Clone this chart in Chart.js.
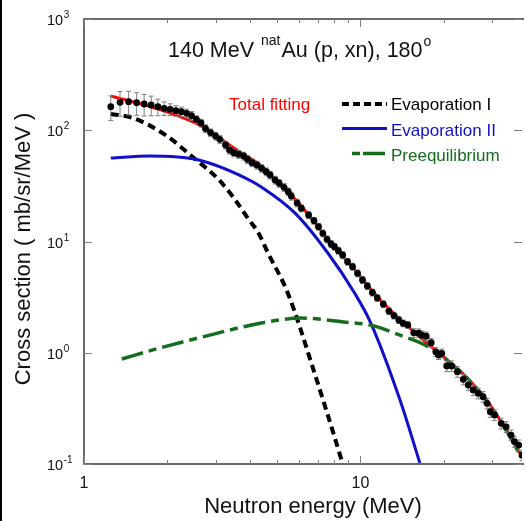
<!DOCTYPE html>
<html>
<head>
<meta charset="utf-8">
<script src="https://cdn.jsdelivr.net/npm/chart.js@4.4.0/dist/chart.umd.min.js"></script>
<style>
  html, body { margin: 0; padding: 0; background: #fff; }
  #wrap { width: 526px; height: 521px; position: relative; }
</style>
</head>
<body>
<div id="wrap"><canvas id="chart" width="526" height="521"></canvas></div>
<script>
// Measured spectrum (neutron energy in MeV, cross section in mb/sr/MeV)
const dataE = [1.25, 1.35, 1.45, 1.55, 1.65, 1.75, 1.85, 1.95, 2.05, 2.15, 2.25, 2.35, 2.45, 2.55, 2.65,
  2.75, 2.87, 2.99, 3.10, 3.25, 3.36, 3.48, 3.62, 3.78, 3.90, 4.05, 4.22, 4.39, 4.56, 4.71, 4.91, 5.08, 5.29, 5.48, 5.62, 5.90,
  6.11, 6.49, 6.79, 7.05, 7.31, 7.57, 7.83, 8.05, 8.32, 8.62, 8.98, 9.36, 9.76, 10.17, 10.59, 11.04, 11.50, 12.09, 12.67, 13.21,
  13.76, 14.26, 14.83, 15.58, 16.23, 16.68, 17.29, 18.02, 18.73, 19.15, 19.68, 20.51, 21.37, 22.40, 23.53, 24.53, 25.56, 26.64,
  27.76, 28.69, 29.48, 30.55, 32.28, 33.64, 35.06, 36.03, 37.37, 38.40];
const dataY = [162.8, 178.3, 180.6, 176.9, 172.2, 168.7, 162.8, 157.5, 154.3, 149.9, 146.8, 142.0, 135.1, 124.9, 116.2,
  103.7, 95.1, 88.8, 82.9, 73.7, 66.4, 62.8, 60.8, 58.7, 54.8, 51.1, 48.7, 45.5, 42.4, 39.6, 35.7, 33.4, 30.7, 28.0, 25.6, 22.2,
  19.9, 17.3, 15.4, 13.6, 11.85, 10.47, 9.50, 8.98, 8.27, 7.56, 6.58, 5.94, 5.18, 4.51, 3.98, 3.48, 3.11, 2.74, 2.37, 2.16,
  1.97, 1.84, 1.78, 1.51, 1.50, 1.44, 1.41, 1.23, 1.02, 0.955, 0.989, 0.760, 0.760, 0.676, 0.577, 0.513, 0.463, 0.432,
  0.403, 0.351, 0.295, 0.276, 0.232, 0.216, 0.182, 0.159, 0.148, 0.120];
// relative uncertainty of each point, in percent
const errPct = [25, 25, 24, 23, 22, 20, 17, 14, 12, 11, 10, 9, 9, 8, 8,
  8, 8, 8, 8, 8, 8, 8, 8, 8, 8, 8, 8, 8, 8, 8, 8, 8, 8, 8, 8, 8,
  7, 7, 7, 7, 7, 7, 7, 7, 7, 7, 7, 7, 7, 7, 7, 7, 7, 7, 7, 7,
  7, 7, 7, 9, 9, 9, 9, 9, 9, 9, 9, 11, 11, 11, 11, 11, 11, 11,
  11, 11, 11, 11, 11, 11, 11, 11, 11, 11];

// Fitted components
const totalE = [1.25, 1.57, 2.06, 2.68, 3.29, 3.71, 4.33, 5.04, 5.71, 6.10, 7.62, 9.52, 10.6, 12.1, 13.6, 17.4, 20.5, 24.2, 28.5, 33.6, 35.6, 38.4];
const totalY = [203, 175, 142, 108, 76.3, 62.4, 48.7, 34, 25, 21, 10.4, 5.6, 4.05, 2.8, 2.1, 1.22, 0.87, 0.60, 0.38, 0.205, 0.164, 0.115];
const evapIE = [1.25, 1.50, 1.98, 2.46, 3.07, 3.53, 3.94, 4.27, 4.64, 5.47, 6.79, 8.48, 8.62];
const evapIY = [140, 129, 90, 58, 36, 23.5, 15.8, 12.0, 7.8, 3.4, 0.68, 0.115, 0.10];
const evapIIE = [1.25, 1.72, 2.60, 3.84, 4.38, 5.80, 7.62, 9.52, 10.9, 13.9, 16.4];
const evapIIY = [56.3, 58.7, 54.0, 37.2, 30.9, 18.0, 7.88, 3.44, 1.85, 0.376, 0.102];
const preE = [1.37, 1.87, 2.60, 4.38, 6.10, 8.69, 10.9, 13.9, 17.4, 20.5, 24.2, 28.5, 33.6, 38.1];
const preY = [0.879, 1.10, 1.36, 1.85, 2.05, 1.89, 1.77, 1.44, 1.15, 0.86, 0.60, 0.376, 0.202, 0.116];

// Axis ticks
const xMinorTicks = [2, 3, 4, 5, 6, 7, 8, 9, 20, 30];
const xLabelTicks = [1, 10];
const yExponents = [-1, 0, 1, 2, 3];

const FONT = "'Liberation Sans', Arial, Helvetica, sans-serif";
const RED = "#ff0000";
const BLUE = "#1010c8";
const GREEN = "#146e1e";

function toPoints(xs, ys) {
  return xs.map((x, i) => ({ x: x, y: ys[i] }));
}

// draw one run of text, returns the x where the next run starts
function drawRun(ctx, text, x, y, size) {
  ctx.font = size + "px " + FONT;
  ctx.fillText(text, x, y);
  return x + ctx.measureText(text).width;
}

const decorPlugin = {
  id: "decor",
  beforeDatasetDraw(chart, args) {
    if (chart.data.datasets[args.index].label !== "Data") return;
    const ctx = chart.ctx;
    const xs = chart.scales.x;
    const ys = chart.scales.y;
    const area = chart.chartArea;
    ctx.save();
    ctx.beginPath();
    ctx.rect(area.left, area.top, area.right - area.left, area.bottom - area.top);
    ctx.clip();
    ctx.strokeStyle = "#7e7e7e";
    ctx.lineWidth = 1;
    dataE.forEach((e, i) => {
      const px = xs.getPixelForValue(e);
      const hi = ys.getPixelForValue(dataY[i] * (1 + errPct[i] / 100));
      const lo = ys.getPixelForValue(dataY[i] * (1 - errPct[i] / 100));
      ctx.beginPath();
      ctx.moveTo(px, hi);
      ctx.lineTo(px, lo);
      ctx.moveTo(px - 2.5, hi);
      ctx.lineTo(px + 2.5, hi);
      ctx.moveTo(px - 2.5, lo);
      ctx.lineTo(px + 2.5, lo);
      ctx.stroke();
    });
    ctx.restore();
  },
  afterDraw(chart) {
    const ctx = chart.ctx;
    const xs = chart.scales.x;
    const ys = chart.scales.y;
    const a = chart.chartArea;
    ctx.save();

    // left edge rule of the figure
    ctx.fillStyle = "#000";
    ctx.fillRect(0, 0, 2, chart.height);

    // frame
    ctx.strokeStyle = "#3a3a3a";
    ctx.lineWidth = 1.5;
    ctx.beginPath();
    ctx.moveTo(a.right + 2, a.top);
    ctx.lineTo(a.left, a.top);
    ctx.lineTo(a.left, a.bottom);
    ctx.lineTo(a.right + 2, a.bottom);
    ctx.stroke();

    // inward ticks
    ctx.strokeStyle = "#808080";
    ctx.lineWidth = 1;
    ctx.beginPath();
    xMinorTicks.forEach((v) => {
      const px = Math.round(xs.getPixelForValue(v)) + 0.5;
      ctx.moveTo(px, a.bottom); ctx.lineTo(px, a.bottom - 4);
      ctx.moveTo(px, a.top); ctx.lineTo(px, a.top + 4);
    });
    xLabelTicks.forEach((v) => {
      const px = Math.round(xs.getPixelForValue(v)) + 0.5;
      ctx.moveTo(px, a.bottom); ctx.lineTo(px, a.bottom - 8);
      ctx.moveTo(px, a.top); ctx.lineTo(px, a.top + 8);
    });
    yExponents.forEach((p) => {
      const py = Math.round(ys.getPixelForValue(Math.pow(10, p))) + 0.5;
      ctx.moveTo(a.left, py); ctx.lineTo(a.left + 8, py);
      ctx.moveTo(a.right, py); ctx.lineTo(a.right - 8, py);
    });
    ctx.stroke();

    // tick labels
    ctx.fillStyle = "#111";
    ctx.textBaseline = "alphabetic";
    ctx.textAlign = "center";
    ctx.font = "16px " + FONT;
    xLabelTicks.forEach((v) => {
      ctx.fillText(String(v), xs.getPixelForValue(v), a.bottom + 24);
    });
    ctx.textAlign = "left";
    yExponents.forEach((p) => {
      const py = ys.getPixelForValue(Math.pow(10, p));
      const end = drawRun(ctx, "10", 47, py + 6, 14.5);
      drawRun(ctx, p < 0 ? "-" + Math.abs(p) : String(p), end + 0.5, py - 1, 10);
    });

    // axis titles
    ctx.font = "22px " + FONT;
    ctx.textAlign = "center";
    ctx.fillText("Neutron energy (MeV)", 313, 513);
    ctx.save();
    ctx.translate(24, 249);
    ctx.rotate(-Math.PI / 2);
    ctx.textBaseline = "middle";
    ctx.fillText("Cross section ( mb/sr/MeV )", 0, 0);
    ctx.restore();

    // plot caption with superscripts
    ctx.textAlign = "left";
    ctx.fillStyle = "#111";
    let cx = drawRun(ctx, "140 MeV ", 168, 57, 21.5);
    cx = drawRun(ctx, "nat", cx + 1, 45, 14);
    cx = drawRun(ctx, "Au (p, xn), 180", cx + 1, 57, 21.5);
    drawRun(ctx, "o", cx + 1, 46, 14);

    // legend
    ctx.font = "17px " + FONT;
    ctx.fillStyle = RED;
    ctx.fillText("Total fitting", 229, 110);

    const sx0 = 342, sx1 = 387, tx = 391;
    ctx.lineCap = "butt";
    ctx.lineWidth = 4;
    ctx.strokeStyle = "#000";
    ctx.setLineDash([7, 4]);
    ctx.beginPath(); ctx.moveTo(sx0, 104); ctx.lineTo(sx1, 104); ctx.stroke();
    ctx.fillStyle = "#000";
    ctx.fillText("Evaporation I", tx, 110);

    ctx.strokeStyle = BLUE;
    ctx.lineWidth = 3;
    ctx.setLineDash([]);
    ctx.beginPath(); ctx.moveTo(sx0, 128.5); ctx.lineTo(sx1, 128.5); ctx.stroke();
    ctx.fillStyle = BLUE;
    ctx.fillText("Evaporation II", tx, 136);

    ctx.strokeStyle = GREEN;
    ctx.lineWidth = 3.5;
    ctx.setLineDash([8, 3, 22, 6]);
    ctx.beginPath(); ctx.moveTo(352, 153.5); ctx.lineTo(sx1, 153.5); ctx.stroke();
    ctx.setLineDash([]);
    ctx.fillStyle = GREEN;
    ctx.fillText("Preequilibrium", tx, 161);

    ctx.restore();
  },
};

const ctx = document.getElementById("chart").getContext("2d");

new Chart(ctx, {
  type: "scatter",
  data: {
    datasets: [
      {
        label: "Data",
        data: toPoints(dataE, dataY),
        showLine: false,
        pointRadius: 3.4,
        pointBackgroundColor: "#000",
        pointBorderWidth: 0,
        order: 0,
      },
      {
        label: "Preequilibrium",
        data: toPoints(preE, preY),
        showLine: true,
        borderColor: GREEN,
        borderWidth: 3.5,
        borderDash: [22, 6, 8, 6],
        pointRadius: 0,
        cubicInterpolationMode: "monotone",
        order: 1,
      },
      {
        label: "Evaporation II",
        data: toPoints(evapIIE, evapIIY),
        showLine: true,
        borderColor: BLUE,
        borderWidth: 3,
        pointRadius: 0,
        cubicInterpolationMode: "monotone",
        order: 2,
      },
      {
        label: "Evaporation I",
        data: toPoints(evapIE, evapIY),
        showLine: true,
        borderColor: "#000",
        borderWidth: 4,
        borderDash: [8, 5],
        pointRadius: 0,
        cubicInterpolationMode: "monotone",
        order: 3,
      },
      {
        label: "Total fitting",
        data: toPoints(totalE, totalY),
        showLine: true,
        borderColor: RED,
        borderWidth: 3,
        pointRadius: 0,
        cubicInterpolationMode: "monotone",
        order: 4,
      },
    ],
  },
  options: {
    responsive: false,
    animation: false,
    devicePixelRatio: 1,
    layout: { padding: { top: 19, right: 0, left: 0, bottom: 0 } },
    plugins: {
      legend: { display: false },
      tooltip: { enabled: false },
    },
    scales: {
      x: {
        type: "logarithmic",
        min: 1,
        max: 38.39,
        grid: { display: false, drawTicks: false },
        border: { display: false },
        ticks: { display: false },
        afterFit: (scale) => { scale.height = 57; },
      },
      y: {
        type: "logarithmic",
        min: 0.1,
        max: 1000,
        grid: { display: false, drawTicks: false },
        border: { display: false },
        ticks: { display: false },
        afterFit: (scale) => { scale.width = 84; },
      },
    },
  },
  plugins: [decorPlugin],
});
</script>
</body>
</html>
